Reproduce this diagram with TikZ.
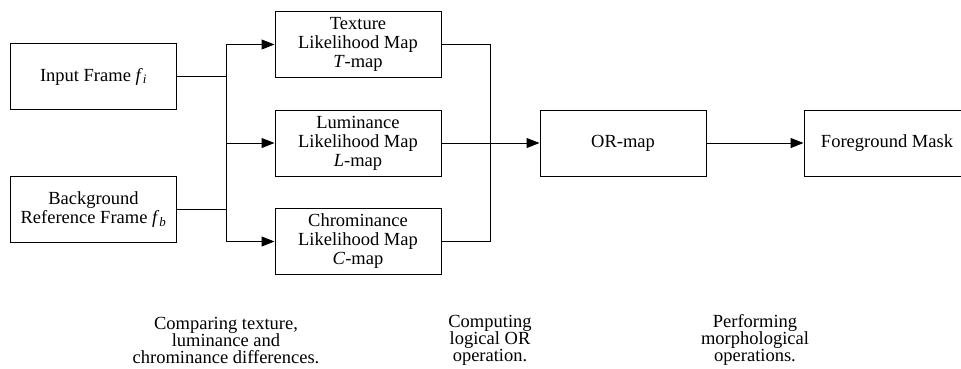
\documentclass[tikz,border=0pt]{standalone}
\usepackage{fontspec}
\setmainfont{Liberation Serif}
\usetikzlibrary{arrows.meta}
\tikzset{
  blk/.style={draw, line width=1pt, minimum width=166pt, minimum height=66pt, inner sep=0pt, align=center, font=\fontsize{18.5}{19}\selectfont},
  conn/.style={line width=1pt},
  arr/.style={line width=1pt, -{Triangle[length=13pt,width=10pt]}},
  captxt/.style={align=center, inner sep=0pt, font=\fontsize{18.5}{17}\selectfont}
}
\begin{document}
\begin{tikzpicture}[x=1pt,y=-1pt]
\useasboundingbox (0,0) rectangle (961,368);
\clip (0,0) rectangle (961,368);
\node[blk] (inp) at (93.5,76.5) {Input Frame \textit{f}\textsubscript{\textit{i}}};
\node[blk] (bg) at (93.5,209.5) {Background\\Reference Frame \textit{f}\textsubscript{\textit{b}}};
\node[blk] (tex) at (358,44.5) {Texture\\Likelihood Map\\\textit{T}-map};
\node[blk] (lum) at (358,143) {Luminance\\Likelihood Map\\\textit{L}-map};
\node[blk] (chr) at (358,241.5) {Chrominance\\Likelihood Map\\\textit{C}-map};
\node[blk] (or) at (623,143) {OR-map};
\node[blk] (fg) at (887,143) {Foreground Mask};
\coordinate (b1i) at (226,76.5);
\coordinate (b1b) at (226,209.5);
\coordinate (b1t) at (226,44.5);
\coordinate (b1l) at (226,143);
\coordinate (b1c) at (226,241.5);
\coordinate (b2t) at (490,44.5);
\coordinate (b2c) at (490,241.5);
\draw[conn] (inp.east) -- (b1i);
\draw[conn] (bg.east) -- (b1b);
\draw[conn] (b1t) -- (b1c);
\draw[arr] (b1t) -- (tex.west);
\draw[arr] (b1l) -- (lum.west);
\draw[arr] (b1c) -- (chr.west);
\draw[conn] (tex.east) -- (b2t) -- (b2c) -- (chr.east);
\draw[arr] (lum.east) -- (or.west);
\draw[arr] (or.east) -- (fg.west);
\node[captxt] (c1) at (226,340) {Comparing texture,\\luminance and\\chrominance differences.};
\node[captxt] (c2) at (490,340) {Computing\\logical OR\\operation.};
\node[captxt] (c3) at (755,340) {Performing\\morphological\\operations.};
\end{tikzpicture}
\end{document}
